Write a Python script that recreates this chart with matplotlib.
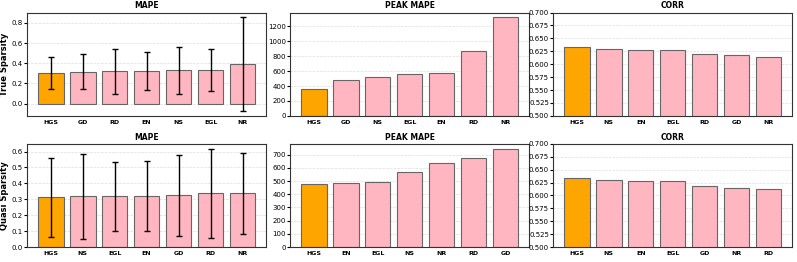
import matplotlib.pyplot as plt
from matplotlib.ticker import MaxNLocator

# True sparsity row
ts_mape_labels = ['HGS', 'GD', 'RD', 'EN', 'NS', 'EGL', 'NR']
ts_mape = [0.300, 0.315, 0.318, 0.322, 0.328, 0.330, 0.390]
ts_mape_err = [0.157, 0.172, 0.222, 0.192, 0.237, 0.207, 0.465]
ts_peak_labels = ['HGS', 'GD', 'NS', 'EGL', 'EN', 'RD', 'NR']
ts_peak = [365, 478, 520, 565, 572, 865, 1320]
ts_corr_labels = ['HGS', 'NS', 'EN', 'EGL', 'RD', 'GD', 'NR']
ts_corr = [0.634, 0.630, 0.628, 0.627, 0.620, 0.617, 0.614]

# Quasi sparsity row
qs_mape_labels = ['HGS', 'NS', 'EGL', 'EN', 'GD', 'RD', 'NR']
qs_mape = [0.313, 0.318, 0.318, 0.322, 0.325, 0.338, 0.338]
qs_mape_err = [0.248, 0.268, 0.218, 0.218, 0.256, 0.280, 0.254]
qs_peak_labels = ['HGS', 'EN', 'EGL', 'NS', 'NR', 'RD', 'GD']
qs_peak = [480, 484, 494, 566, 640, 675, 745]
qs_corr_labels = ['HGS', 'NS', 'EN', 'EGL', 'GD', 'NR', 'RD']
qs_corr = [0.633, 0.630, 0.628, 0.627, 0.619, 0.614, 0.613]

rows = [
    ('True Sparsity', [(ts_mape_labels, ts_mape, ts_mape_err, 'MAPE'),
                       (ts_peak_labels, ts_peak, None, 'PEAK MAPE'),
                       (ts_corr_labels, ts_corr, None, 'CORR')]),
    ('Quasi Sparsity', [(qs_mape_labels, qs_mape, qs_mape_err, 'MAPE'),
                        (qs_peak_labels, qs_peak, None, 'PEAK MAPE'),
                        (qs_corr_labels, qs_corr, None, 'CORR')]),
]

fig, axes = plt.subplots(2, 3, figsize=(7.97, 2.62), dpi=100)
fig.subplots_adjust(left=0.034, right=0.994, top=0.952, bottom=0.057,
                    wspace=0.1, hspace=0.27)

for r, (row_label, panels) in enumerate(rows):
    for c, (labels, vals, err, title) in enumerate(panels):
        ax = axes[r, c]
        colors = ['orange' if l == 'HGS' else 'lightpink' for l in labels]
        ax.bar(labels, vals, color=colors, edgecolor='#666666', linewidth=0.8,
               width=0.8, zorder=2)
        if err is not None:
            ax.errorbar(labels, vals, yerr=err, fmt='none', ecolor='black',
                        elinewidth=1, capsize=2.5, zorder=3)
        else:
            ax.yaxis.set_major_locator(MaxNLocator(nbins=8))
        if title == 'CORR':
            ax.set_ylim(0.5, 0.7)
        ax.set_title(title, fontsize=5.5, fontweight='bold', pad=3)
        ax.grid(axis='y', linestyle='--', color='#dddddd', linewidth=0.5, zorder=0)
        ax.tick_params(axis='x', labelsize=4.5, length=0, pad=3)
        ax.tick_params(axis='y', labelsize=5, length=2, pad=1)
        for t in ax.get_xticklabels():
            t.set_fontweight('bold')
        for s in ax.spines.values():
            s.set_color('#333333')
            s.set_linewidth(0.8)
        if c == 0:
            ax.set_ylabel(row_label, fontsize=6, fontweight='bold', labelpad=2)

plt.savefig('out.png', dpi=100)
